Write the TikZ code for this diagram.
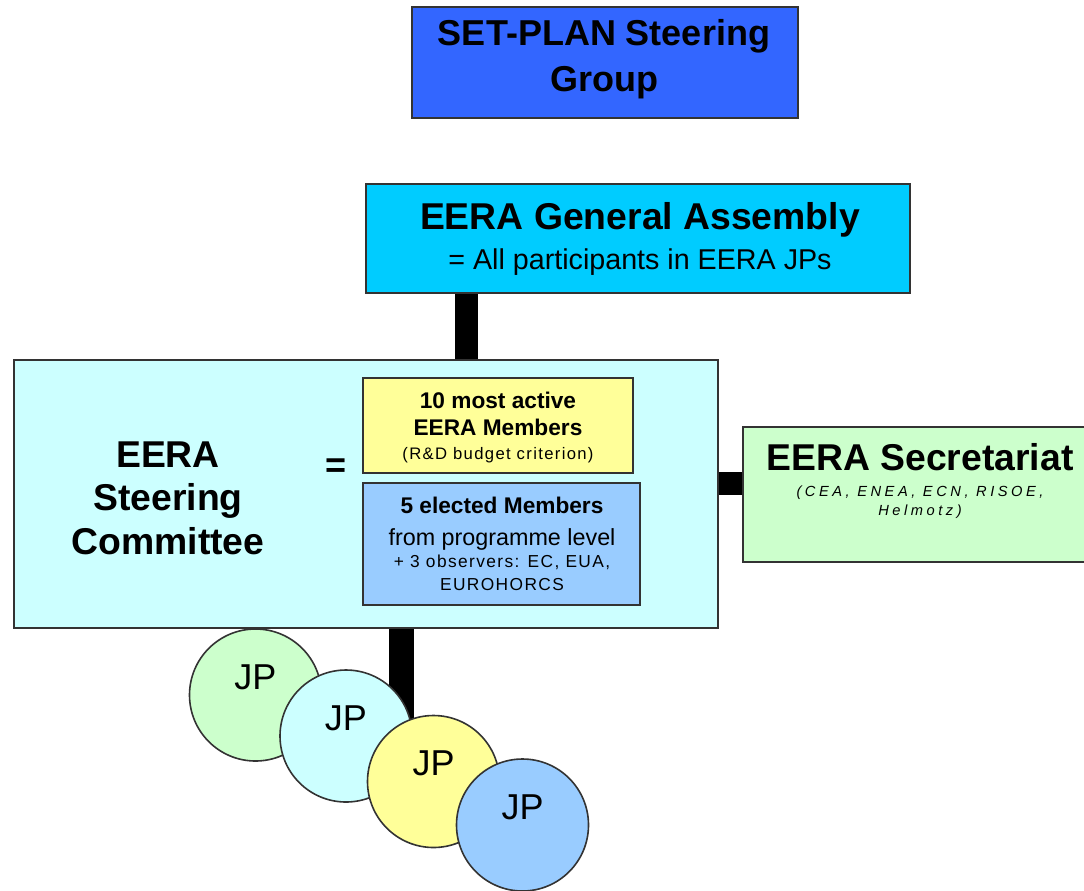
\documentclass[tikz,border=0pt]{standalone}
\usepackage{fontspec}
\setmainfont{Liberation Sans}
\newfontfamily\spacedfont[LetterSpace=8]{Liberation Sans}
\newfontfamily\secfont[LetterSpace=24]{Liberation Sans}
\usetikzlibrary{backgrounds}
\definecolor{sgblue}{HTML}{3366FF}
\definecolor{gablue}{HTML}{00CCFF}
\definecolor{sccyan}{HTML}{CCFFFF}
\definecolor{memyellow}{HTML}{FFFF99}
\definecolor{memblue}{HTML}{99CCFF}
\definecolor{secgreen}{HTML}{CCFFCC}

\begin{document}
\begin{tikzpicture}[x=0.75pt,y=-0.75pt,
    box/.style={draw=black!80,line width=1.2pt,inner sep=0pt},
    txt/.style={align=center,anchor=base,inner sep=0pt},
    link/.style={line width=17.25pt,black},
    jp/.style={circle,draw=black!80,line width=1.2pt,minimum size=99pt,inner sep=0pt,
        label={[yshift=13.5pt,font=\fontsize{27}{27}\selectfont]center:JP}}]
    \useasboundingbox (0,0) rectangle (1084,890);

    \node[box,fill=sgblue,minimum width=289.5pt,minimum height=83.25pt] (sg) at (605,62.5) {};
    \node[txt,font=\fontsize{27}{34.5}\selectfont\bfseries] (sgtext) at (604,91) {SET-PLAN Steering\\Group};

    \node[box,fill=gablue,minimum width=408pt,minimum height=81.75pt] (ga) at (638,238.5) {};
    \node[txt,font=\fontsize{21.5}{30}\selectfont] (gatext) at (640,269)
        {{\fontsize{28}{30}\selectfont\bfseries EERA General Assembly}\\= All participants in EERA JPs};

    \node[box,fill=sccyan,minimum width=528pt,minimum height=201pt] (sc) at (366,494) {};
    \node[txt,font=\fontsize{28}{32.6}\selectfont\bfseries] (sctext) at (168,554) {EERA\\Steering\\Committee};
    \node[inner sep=0pt,font=\fontsize{27}{27}\selectfont\bfseries] (eq) at (336,468.5) {=};

    \node[box,fill=memyellow,minimum width=202.5pt,minimum height=71.25pt] (top10) at (498,425.5) {};
    \node[txt,font=\fontsize{17}{20.25}\selectfont\bfseries] (top10text) at (498,459)
        {10 most active\\EERA Members\\[-2.25pt]{\spacedfont\mdseries\fontsize{12.5}{12.5}\selectfont (R\&D budget criterion)}};

    \node[box,fill=memblue,minimum width=207.75pt,minimum height=91.5pt] (elected) at (501.5,544) {};
    \node[txt,font=\spacedfont\fontsize{13}{17}\selectfont] (electedtext) at (502,590)
        {{\rmfamily\fontsize{17}{17}\selectfont\bfseries 5 elected Members}\\[7pt]{\rmfamily\fontsize{17.5}{17.5}\selectfont from programme level}\\[-0.5pt]+ 3 observers: EC, EUA,\\EUROHORCS};

    \node[box,fill=secgreen,minimum width=264pt,minimum height=101.25pt] (sec) at (919,494.5) {};
    \node[txt,font=\secfont\fontsize{11}{14.25}\selectfont\itshape] (sectext) at (920,515)
        {{\rmfamily\upshape\fontsize{28}{28}\selectfont\bfseries EERA Secretariat}\\[5.25pt](CEA, ENEA, ECN, RISOE,\\Helmotz)};

    \node[jp,fill=secgreen] (jp1) at (255.5,695) {};
    \node[jp,fill=sccyan] (jp2) at (346,736) {};
    \node[jp,fill=memyellow] (jp3) at (433.5,781.5) {};
    \node[jp,fill=memblue] (jp4) at (522.5,825) {};

    \begin{scope}[on background layer]
        \draw[link] (ga.south -| 466.5,0) -- (sc.north -| 466.5,0);
        \draw[link] (sc.east |- 0,483.5) -- (sec.west |- 0,483.5);
        \draw[link,line width=18.75pt] (sc.south -| 401,0) -- (jp3.center -| 401,0);
    \end{scope}
\end{tikzpicture}
\end{document}
